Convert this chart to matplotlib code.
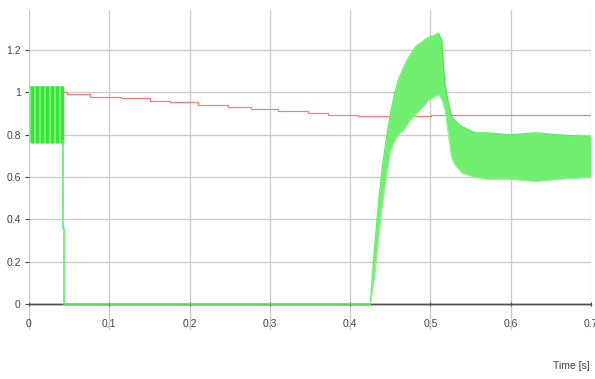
import matplotlib
matplotlib.use("Agg")
import matplotlib.pyplot as plt
from matplotlib.ticker import FuncFormatter

# reference speed (red, stepped)
red_t = [0, 0.0475, 0.076, 0.114, 0.151, 0.176, 0.21, 0.2475, 0.276, 0.31,
         0.3475, 0.3725, 0.41, 0.501, 0.70]
red_v = [1.0, 0.992, 0.981, 0.972, 0.961, 0.953, 0.942, 0.932, 0.922, 0.914,
         0.903, 0.895, 0.887, 0.895, 0.895]

# green signal: oscillating start band
head_t = [0.0, 0.0425]
head_hi = [1.03, 1.03]
head_lo = [0.76, 0.76]
head_peaks = [0.004, 0.010, 0.016, 0.0225, 0.029, 0.035, 0.041]

# green signal: switched off
off_t = [0.0425, 0.0425, 0.044, 0.044, 0.425]
off_v = [0.77, 0.36, 0.36, 0.0, 0.0]

# green signal: restart band (upper / lower envelope)
burst_t = [0.425, 0.43, 0.435, 0.44, 0.445, 0.45, 0.455, 0.46, 0.468, 0.475,
           0.4825, 0.49, 0.497, 0.505, 0.51, 0.514, 0.518, 0.522, 0.526,
           0.53, 0.535, 0.539, 0.547, 0.555, 0.57, 0.60, 0.63, 0.66, 0.70]
burst_hi = [0.0, 0.25, 0.47, 0.65, 0.78, 0.90, 0.99, 1.06, 1.13, 1.18,
            1.22, 1.24, 1.26, 1.27, 1.28, 1.25, 1.04, 0.96, 0.89,
            0.87, 0.85, 0.84, 0.825, 0.81, 0.81, 0.80, 0.81, 0.80, 0.79]
burst_lo = [0.0, 0.12, 0.30, 0.47, 0.60, 0.72, 0.77, 0.80, 0.83, 0.87,
            0.90, 0.93, 0.96, 0.98, 0.99, 0.97, 0.92, 0.81, 0.70,
            0.66, 0.64, 0.62, 0.61, 0.60, 0.59, 0.59, 0.58, 0.59, 0.60]

zero_t = [0.0, 0.7]

x_ticks = [0, 0.1, 0.2, 0.3, 0.4, 0.5, 0.6, 0.7]
y_ticks = [0, 0.2, 0.4, 0.6, 0.8, 1.0, 1.2]

plt.rcParams['font.family'] = ['Liberation Sans', 'DejaVu Sans']

fig = plt.figure(figsize=(5.95, 3.79), dpi=100)
ax = fig.add_axes([0.0487, 0.1293, 0.9446, 0.8443])

ax.set_xlim(0, 0.7)
ax.set_ylim(-0.123, 1.39)

for s in ['top', 'right', 'left']:
    ax.spines[s].set_visible(False)
ax.spines['bottom'].set_position(('data', 0))
ax.spines['bottom'].set_color('#505050')
ax.spines['bottom'].set_linewidth(1.0)
ax.spines['bottom'].set_zorder(1)

ax.set_xticks(x_ticks)
ax.set_yticks(y_ticks)
fmt = FuncFormatter(lambda v, p: ('%g' % round(v, 3)))
ax.xaxis.set_major_formatter(fmt)
ax.yaxis.set_major_formatter(fmt)
ax.grid(True, color='#cccccc', linewidth=1.0)
ax.set_axisbelow(True)
ax.tick_params(axis='x', direction='inout', length=3, color='#444444',
               labelsize=7.5, labelcolor='#444444', pad=9)
ax.tick_params(axis='y', direction='out', length=3, color='#444444',
               labelsize=7.5, labelcolor='#444444', pad=3)

# zero trace
ax.plot(zero_t, [0, 0], color='#505050', lw=1.0, zorder=2)

# red trace
ax.plot(red_t, red_v, color='#ff7a7a', lw=0.9, drawstyle='steps-post', zorder=3)

# green trace
green = '#33e833'
light = '#70ee70'
ax.fill_between(head_t, head_lo, head_hi, color='#8ff28f', lw=0, zorder=4)
ax.vlines(head_peaks, head_lo[0], head_hi[0], color=green, lw=2.5, zorder=4)
ax.plot(off_t, off_v, color='#5ff05f', lw=1.2, zorder=4)
ax.fill_between(burst_t, burst_lo, burst_hi, color=light, lw=0, zorder=4)
ax.plot(burst_t, burst_hi, color=green, lw=0.8, alpha=0.8, zorder=5)
ax.plot(burst_t, burst_lo, color='#8ff28f', lw=0.8, zorder=5)

fig.text(0.992, 0.02, 'Time [s]', ha='right', va='bottom', fontsize=7.5,
         color='#444444')

fig.savefig('out.png', dpi=100)
